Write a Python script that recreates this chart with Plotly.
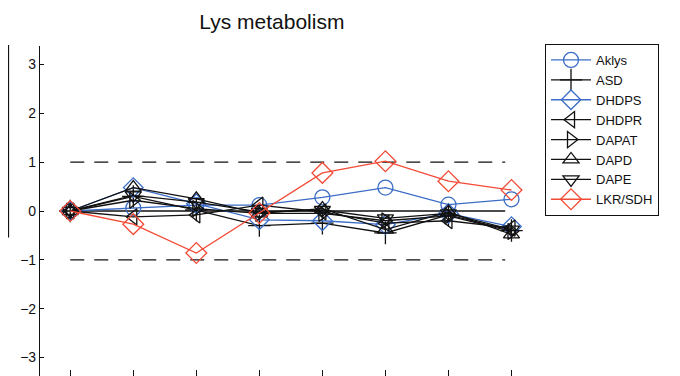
import plotly.graph_objects as go

# samples along the x axis
samples = [1, 2, 3, 4, 5, 6, 7, 8]

aklys = [0, 0.06, 0.12, 0.12, 0.28, 0.48, 0.13, 0.24]
asd = [0, 0.30, 0.02, -0.30, -0.25, -0.45, -0.08, -0.40]
dhdps = [0, 0.48, 0.15, -0.18, -0.20, -0.28, -0.05, -0.32]
dhdpr = [0, -0.12, -0.08, 0.12, -0.02, -0.25, -0.20, -0.35]
dapat = [0, 0.22, 0.05, -0.05, -0.05, -0.20, -0.10, -0.42]
dapd = [0, 0.48, 0.25, -0.05, 0.05, -0.38, -0.02, -0.48]
dape = [0, 0.32, 0.18, -0.02, 0.02, -0.15, -0.05, -0.38]
lkr_sdh = [0, -0.27, -0.86, -0.04, 0.78, 1.02, 0.61, 0.43]

y_ticks = [-3, -2, -1, 0, 1, 2, 3]
y_tick_text = ["\u22123", "\u22122", "\u22121", "0", "1", "2", "3"]

BLUE = "#3b6cc6"
RED = "#f24a35"
BLACK = "#111111"

series = [
    ("Aklys", aklys, BLUE, "circle-open", 15),
    ("ASD", asd, BLACK, "cross-thin-open", 16),
    ("DHDPS", dhdps, BLUE, "diamond-open", 15),
    ("DHDPR", dhdpr, BLACK, "triangle-left-open", 14),
    ("DAPAT", dapat, BLACK, "triangle-right-open", 14),
    ("DAPD", dapd, BLACK, "triangle-up-open", 14),
    ("DAPE", dape, BLACK, "triangle-down-open", 14),
    ("LKR/SDH", lkr_sdh, RED, "diamond-open", 16),
]

fig = go.Figure()
for name, vals, color, symbol, size in series:
    fig.add_trace(go.Scatter(
        x=samples, y=vals, name=name, mode="lines+markers",
        line=dict(color=color, width=1.3),
        marker=dict(symbol=symbol, size=size, color=color,
                    line=dict(color=color, width=1.3)),
    ))

# reference lines at -1, 0, +1
for level, dash in [(1, "14px,10px"), (-1, "14px,10px"), (0, "solid")]:
    fig.add_shape(type="line", xref="x", yref="y", x0=1, x1=7.9, y0=level, y1=level,
                  line=dict(color=BLACK, width=1.3, dash=dash), layer="below")

# edge of the neighbouring panel, cut off at the left
fig.add_shape(type="line", xref="paper", yref="paper",
              x0=-0.0626, x1=-0.0626, y0=1.003, y1=0.42,
              line=dict(color=BLACK, width=1.2))

# page body adds an 8px offset, margins compensate for it
fig.update_layout(
    width=680, height=376,
    margin=dict(l=32, r=145, t=38, b=8),
    paper_bgcolor="white", plot_bgcolor="white",
    font=dict(family="Liberation Sans, Arial, sans-serif", color=BLACK, size=14),
    title=dict(text="Lys metabolism", x=0.388, xanchor="center", y=0.963, yanchor="middle",
               font=dict(size=21, color=BLACK)),
    showlegend=True,
    legend=dict(x=1.004, y=1.006, xanchor="left", yanchor="top",
                bordercolor=BLACK, borderwidth=1, bgcolor="white",
                font=dict(size=13, color=BLACK), tracegroupgap=0,
                itemwidth=40),
    xaxis=dict(range=[0.52, 8.5], tickvals=samples, showticklabels=False,
               ticks="inside", ticklen=6, tickcolor=BLACK, showline=False,
               showgrid=False, zeroline=False),
    yaxis=dict(range=[-3.38, 3.38], tickvals=y_ticks, ticktext=y_tick_text,
               ticks="inside", ticklen=4, tickcolor=BLACK, showline=True,
               linecolor=BLACK, linewidth=1.2, showgrid=False, zeroline=False,
               tickfont=dict(size=14)),
)

fig.write_html("out.html")
